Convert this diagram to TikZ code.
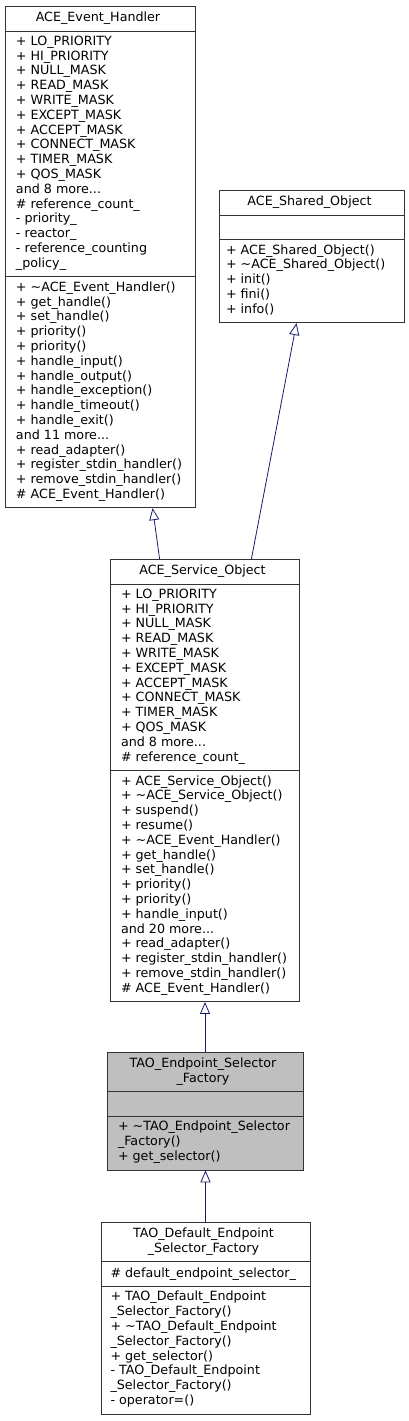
\documentclass[tikz,border=0pt]{standalone}
\usepackage{fontspec}
\setmainfont{DejaVu Sans}
\usetikzlibrary{shapes.multipart,arrows.meta}

\definecolor{edgeblue}{HTML}{191970}
\definecolor{currentgray}{HTML}{BFBFBF}

\tikzset{
  classbox/.style={draw=black!80, line width=0.8pt, fill=white, anchor=north,
    rectangle split, rectangle split parts=3,
    rectangle split part align={center,left,left}, align=left,
    inner xsep=11pt, inner ysep=4.5pt,
    font=\fontsize{12.7}{14.8}\selectfont,
    execute at begin node=\strut, execute at end node=\strut},
  inherit/.style={draw=edgeblue, line width=0.8pt, -{Triangle[open,length=12pt,width=10pt]}}
}

\begin{document}
\begin{tikzpicture}[x=1pt, y=-1pt]
\useasboundingbox (0,0) rectangle (409,1421);

% Base class ACE_Event_Handler
\node[classbox, minimum width=190pt] (evh) at (100,6) {
    ACE\_Event\_Handler % Class Name
    \nodepart{second}
    + LO\_PRIORITY\\
    + HI\_PRIORITY\\
    + NULL\_MASK\\
    + READ\_MASK\\
    + WRITE\_MASK\\
    + EXCEPT\_MASK\\
    + ACCEPT\_MASK\\
    + CONNECT\_MASK\\
    + TIMER\_MASK\\
    + QOS\_MASK\\
    and 8 more...\\
    \# reference\_count\_\\
    - priority\_\\
    - reactor\_\\
    - reference\_counting\\
    \_policy\_
    \nodepart{third}
    + \textasciitilde ACE\_Event\_Handler()\\
    + get\_handle()\\
    + set\_handle()\\
    + priority()\\
    + priority()\\
    + handle\_input()\\
    + handle\_output()\\
    + handle\_exception()\\
    + handle\_timeout()\\
    + handle\_exit()\\
    and 11 more...\\
    + read\_adapter()\\
    + register\_stdin\_handler()\\
    + remove\_stdin\_handler()\\
    \# ACE\_Event\_Handler()
};

% Base class ACE_Shared_Object
\node[classbox, inner xsep=7pt, minimum width=185pt] (shared) at (311.5,190) {
    ACE\_Shared\_Object % Class Name
    \nodepart{second}
    \nodepart{third}
    + ACE\_Shared\_Object()\\
    + \textasciitilde ACE\_Shared\_Object()\\
    + init()\\
    + fini()\\
    + info()
};

% ACE_Service_Object
\node[classbox, minimum width=189pt] (svc) at (204.5,559) {
    ACE\_Service\_Object % Class Name
    \nodepart{second}
    + LO\_PRIORITY\\
    + HI\_PRIORITY\\
    + NULL\_MASK\\
    + READ\_MASK\\
    + WRITE\_MASK\\
    + EXCEPT\_MASK\\
    + ACCEPT\_MASK\\
    + CONNECT\_MASK\\
    + TIMER\_MASK\\
    + QOS\_MASK\\
    and 8 more...\\
    \# reference\_count\_
    \nodepart{third}
    + ACE\_Service\_Object()\\
    + \textasciitilde ACE\_Service\_Object()\\
    + suspend()\\
    + resume()\\
    + \textasciitilde ACE\_Event\_Handler()\\
    + get\_handle()\\
    + set\_handle()\\
    + priority()\\
    + priority()\\
    + handle\_input()\\
    and 20 more...\\
    + read\_adapter()\\
    + register\_stdin\_handler()\\
    + remove\_stdin\_handler()\\
    \# ACE\_Event\_Handler()
};

% Current class with grey background
\node[classbox, fill=currentgray, minimum width=196pt] (tao) at (205,1052) {
    \begin{tabular}{@{}c@{}}TAO\_Endpoint\_Selector\\\_Factory\end{tabular} % Class Name
    \nodepart{second}
    \nodepart{third}
    + \textasciitilde TAO\_Endpoint\_Selector\\
    \_Factory()\\
    + get\_selector()
};

% Derived class TAO_Default_Endpoint_Selector_Factory
\node[classbox, inner xsep=9.5pt, minimum width=209pt] (dflt) at (205.5,1222) {
    \begin{tabular}{@{}c@{}}TAO\_Default\_Endpoint\\\_Selector\_Factory\end{tabular} % Class Name
    \nodepart{second}
    \# default\_endpoint\_selector\_
    \nodepart{third}
    + TAO\_Default\_Endpoint\\
    \_Selector\_Factory()\\
    + \textasciitilde TAO\_Default\_Endpoint\\
    \_Selector\_Factory()\\
    + get\_selector()\\
    - TAO\_Default\_Endpoint\\
    \_Selector\_Factory()\\
    - operator=()
};

% Inheritance arrows
\draw[inherit] ([xshift=50pt]svc.north west) -- ([xshift=148pt]evh.south west);
\draw[inherit] ([xshift=-48pt]svc.north east) -- ([xshift=-15pt]shared.south);
\draw[inherit] (tao.north) -- (tao.north |- svc.south);
\draw[inherit] (dflt.north) -- (dflt.north |- tao.south);

\end{tikzpicture}
\end{document}
